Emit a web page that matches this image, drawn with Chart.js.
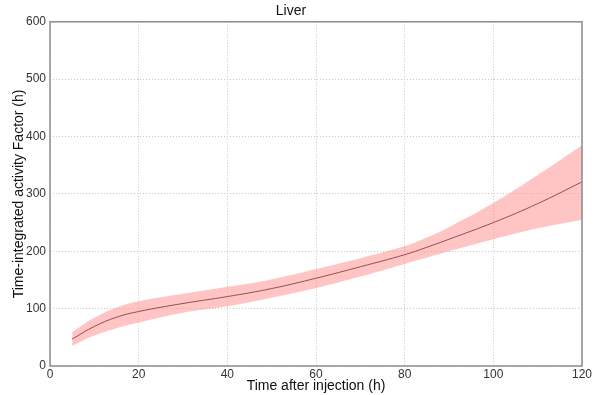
<!DOCTYPE html>
<html>
<head>
<meta charset="utf-8">
<script src="https://cdn.jsdelivr.net/npm/chart.js@4"></script>
<style>
  html, body { margin: 0; padding: 0; background: #fff; }
  #wrap { width: 598px; height: 395px; }
</style>
</head>
<body>
<div id="wrap"><canvas id="myChart"></canvas></div>
<script>
// time after injection (h)
var hours = [5, 10, 15, 20, 30, 40, 50, 60, 70, 80, 85, 90, 100, 110, 120];

// time-integrated activity factor, mean and band
var mean  = [47, 69, 85, 95, 109, 121, 135, 153, 173, 194, 207, 221, 250, 283, 321];
var upper = [59, 84, 102, 113, 126, 138, 151, 169, 188, 209, 224, 242, 284, 333, 385];
var lower = [35, 53, 66, 76, 93, 104, 119, 136, 156, 178, 189, 200, 221, 240, 255];

var xTicks = [0, 20, 40, 60, 80, 100, 120];
var yTicks = [0, 100, 200, 300, 400, 500, 600];

function pts(ys) {
    return hours.map(function (h, i) { return { x: h, y: ys[i] }; });
}

// matplotlib-like frame around the plot area
var frame = {
    id: 'frame',
    afterDraw: function (chart) {
        var a = chart.chartArea, c = chart.ctx;
        c.save();
        c.strokeStyle = '#8c8c8c';
        c.lineWidth = 1.5;
        c.strokeRect(a.left, a.top, a.right - a.left, a.bottom - a.top);
        c.restore();
    }
};

var ctx = document.getElementById("myChart");

var myChart = new Chart(ctx, {
    type: 'line',
    data: {
        datasets: [
            {
                data: pts(lower),
                label: "lower",
                borderWidth: 0,
                pointRadius: 0,
                fill: false,
                tension: 0.4
            },
            {
                data: pts(upper),
                label: "upper",
                borderWidth: 0,
                pointRadius: 0,
                backgroundColor: 'rgba(255,140,140,0.5)',
                fill: '-1',
                tension: 0.4
            },
            {
                data: pts(mean),
                label: "mean",
                borderColor: '#2a1010',
                borderWidth: 1,
                pointRadius: 0,
                fill: false,
                tension: 0.4
            }
        ]
    },
    options: {
        responsive: true,
        maintainAspectRatio: false,
        animation: false,
        layout: { padding: { right: 16, left: 0, top: 0, bottom: 0 } },
        plugins: {
            legend: { display: false },
            tooltip: { enabled: false },
            title: {
                display: true,
                text: 'Liver',
                color: '#111',
                font: { family: 'Liberation Sans', size: 14, weight: 'normal' },
                padding: { top: 3, bottom: 2 }
            }
        },
        scales: {
            x: {
                type: 'linear',
                min: 0,
                max: 120,
                afterBuildTicks: function (s) { s.ticks = xTicks.map(function (v) { return { value: v }; }); },
                afterFit: function (s) { s.height = 29; },
                grid: { color: '#c8c8c8', drawTicks: false },
                border: { display: false, dash: [1, 2] },
                ticks: {
                    color: '#333',
                    font: { family: 'Liberation Sans', size: 12 },
                    padding: 1,
                    maxRotation: 0
                },
                title: {
                    display: true,
                    text: 'Time after injection (h)',
                    color: '#111',
                    font: { family: 'Liberation Sans', size: 14 },
                    padding: { top: -2, bottom: 0 }
                }
            },
            y: {
                min: 0,
                max: 600,
                afterBuildTicks: function (s) { s.ticks = yTicks.map(function (v) { return { value: v }; }); },
                afterFit: function (s) { s.width = 50; },
                grid: { color: '#c8c8c8', drawTicks: false },
                border: { display: false, dash: [1, 2] },
                ticks: {
                    color: '#333',
                    font: { family: 'Liberation Sans', size: 12 },
                    padding: 4
                },
                title: {
                    display: true,
                    text: 'Time-integrated activity Factor (h)',
                    color: '#111',
                    font: { family: 'Liberation Sans', size: 14 },
                    padding: { top: 11, bottom: 0 }
                }
            }
        }
    },
    plugins: [frame]
});
</script>
</body>
</html>
